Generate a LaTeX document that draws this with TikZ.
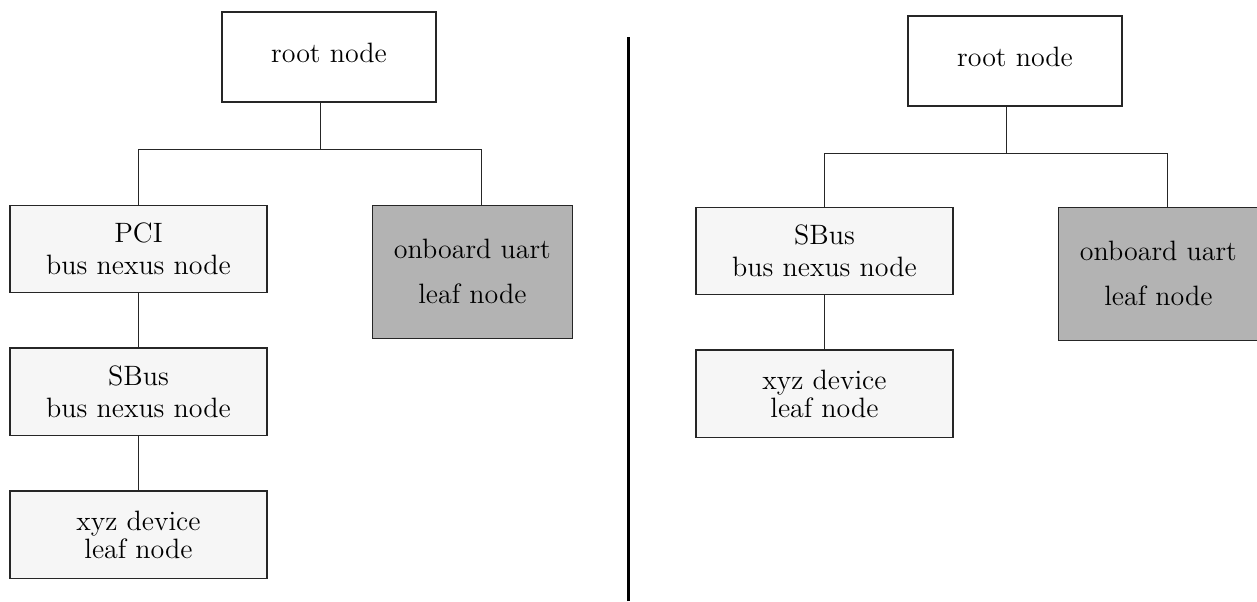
\documentclass[tikz,border=0pt]{standalone}
\usetikzlibrary{positioning}
\definecolor{nexusgray}{HTML}{F6F6F6}
\definecolor{uartgray}{HTML}{B3B3B3}

\begin{document}
\begin{tikzpicture}[
            x = 0.5pt, % one unit is one pixel of the drawing
            y = 0.5pt,
            node distance = 27pt, % gap between stacked boxes
            semithick
        ]

        \tikzstyle{box}=[
            draw = black!85,
            line width = 0.7pt,
            fill = nexusgray,
            minimum width = 128.5pt,
            minimum height = 43.75pt,
            inner sep = 0pt,
            align = center,
            font = \fontsize{14}{16}\selectfont
        ]
        \tikzstyle{rootbox}=[box, fill = white, minimum width = 107pt, minimum height = 45pt, text depth = 4pt]
        \tikzstyle{leafbox}=[box, font = \fontsize{14}{14}\selectfont]
        \tikzstyle{uartbox}=[box, fill = uartgray, minimum width = 100pt, minimum height = 66.5pt]
        \tikzstyle{wire}=[line width = 0.5pt, black!85]

        \useasboundingbox (0,0) rectangle (1257,601);

        % left tree
        \node[rootbox] (rootL) at (329,544) {root node};
        \node[box] (pciL) at (138.5,352) {PCI\\bus nexus node};
        \node[box] (sbusL) [below=of pciL] {SBus\\bus nexus node};
        \node[leafbox] (xyzL) [below=of sbusL] {xyz device\\leaf node};
        \node[uartbox] (uartL) [right=52pt of pciL.north east, anchor=north west] {onboard uart\\[6.5pt]leaf node};

        \coordinate (busL) at ([xshift=-4.5pt, yshift=-23.5pt]rootL.south);
        \draw[wire] ([xshift=-4.5pt]rootL.south) -- (busL);
        \draw[wire] (pciL.north) |- (busL) -| ([xshift=4.5pt]uartL.north);
        \draw[wire] (pciL) -- (sbusL);
        \draw[wire] (sbusL) -- (xyzL);

        % divider
        \draw[line width = 1.8pt] (628.5,0) -- (628.5,564);

        % right tree
        \node[rootbox] (rootR) at (1015,540) {root node};
        \node[box] (sbusR) at (824.5,350) {SBus\\bus nexus node};
        \node[leafbox] (xyzR) [below=of sbusR] {xyz device\\leaf node};
        \node[uartbox] (uartR) [right=52pt of sbusR.north east, anchor=north west] {onboard uart\\[6.5pt]leaf node};

        \coordinate (busR) at ([xshift=-4.5pt, yshift=-23.5pt]rootR.south);
        \draw[wire] ([xshift=-4.5pt]rootR.south) -- (busR);
        \draw[wire] (sbusR.north) |- (busR) -| ([xshift=4.5pt]uartR.north);
        \draw[wire] (sbusR) -- (xyzR);
    \end{tikzpicture}
\end{document}
